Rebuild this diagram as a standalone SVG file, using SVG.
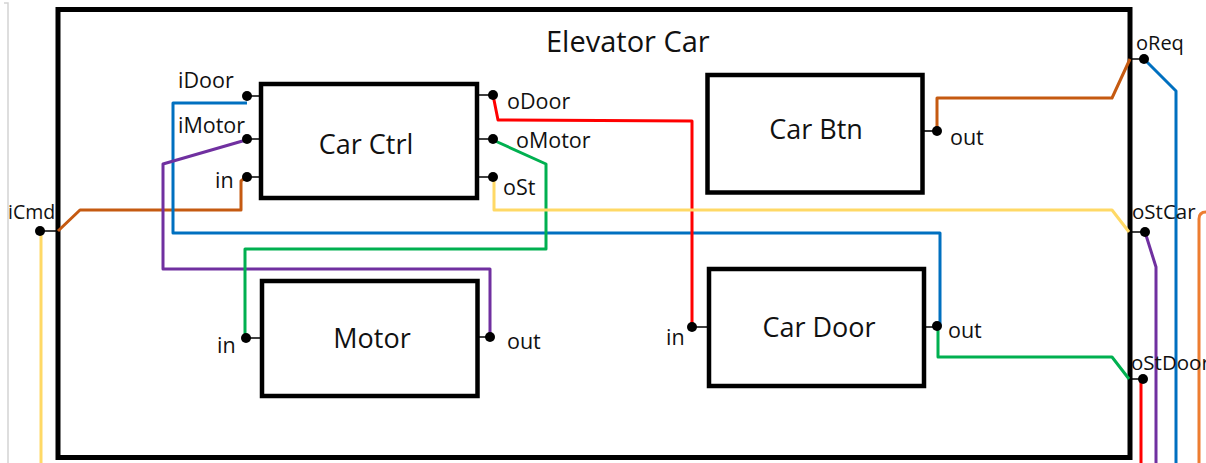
<svg xmlns="http://www.w3.org/2000/svg" width="1206" height="463" viewBox="0 0 1206 463">
<style>
  .box { fill: #fff; stroke: #000; stroke-width: 4.5; }
  .outer { fill: none; stroke: #000; stroke-width: 5; }
  .title { font-family: "Open Sans", "Liberation Sans", sans-serif; font-size: 29px; fill: #111; }
  .name { font-family: "Open Sans", "Liberation Sans", sans-serif; font-size: 27px; fill: #111; text-anchor: middle; }
  .lbl { font-family: "Open Sans", "Liberation Sans", sans-serif; font-size: 21.5px; fill: #111; }
  .dot { fill: #000; }
  .stub { stroke: #000; stroke-width: 1.6; fill: none; }
  .w { fill: none; stroke-width: 3; stroke-linejoin: round; }
  .brown { stroke: #C55A11; }
  .blue { stroke: #0070C0; }
  .purple { stroke: #7030A0; }
  .green { stroke: #00B050; }
  .red { stroke: #FF0000; }
  .yellow { stroke: #FFD966; }
  .orange { stroke: #ED7D31; }
</style>
<rect width="1206" height="463" fill="#fff"/>
<path d="M4,3 L8,3 L8,463" fill="none" stroke="#d4d4d4" stroke-width="1.5"/>

<g id="elevator-car">
  <rect class="outer" x="58" y="9.5" width="1072" height="448"/>
  <text class="title" x="546" y="52">Elevator Car</text>
</g>

<g id="connectors">
  <path class="w brown" d="M58,231 L80,210 L241,210 L241,181 L246,177"/>
  <path class="w brown" d="M937,131 L937,98 L1112,98 L1130,59"/>
  <path class="w blue" d="M1144,59 L1176,91 L1176,463"/>
  <path class="w blue" d="M247,103 L173,103 L173,233 L940,233 L940,326"/>
  <path class="w purple" d="M246,140 L163,164 L163,269 L490,269 L490,337"/>
  <path class="w purple" d="M1145,232 L1156,267 L1156,463"/>
  <path class="w green" d="M493,140 L546,164 L546,249 L245,249 L245,338"/>
  <path class="w green" d="M938,326 L938,357 L1112,357 L1129,379"/>
  <path class="w red" d="M493,95 L498,120 L692,121 L692,327"/>
  <path class="w red" d="M1141,380 L1141,463"/>
  <path class="w yellow" d="M494,177 L494,210 L1112,210 L1129,232"/>
  <path class="w yellow" d="M41,231 L41,463"/>
  <path class="w orange" d="M1206,212 Q1199,212 1199,219 L1199,463"/>
</g>

<g id="ports-outer">
  <path class="stub" d="M40,231 L57,231 M1131,59 L1144,59 M1131,232 L1145,232 M1131,379 L1143,379"/>
  <circle class="dot" cx="40" cy="231" r="5"/>
  <circle class="dot" cx="1144" cy="59" r="5"/>
  <circle class="dot" cx="1145" cy="232" r="5"/>
  <circle class="dot" cx="1143" cy="379" r="5"/>
  <text class="lbl" x="8" y="219" style="font-size:19.5px">iCmd</text>
  <text class="lbl" x="1136" y="50" style="font-size:20px">oReq</text>
  <text class="lbl" x="1132" y="219" style="font-size:20.5px">oStCar</text>
  <text class="lbl" x="1131" y="370" style="font-size:20.5px">oStDoor</text>
</g>

<g id="car-ctrl">
  <path class="stub" d="M247,96 L261,96 M247,139 L261,139 M247,177 L261,177 M477,95 L493,95 M477,139 L493,139 M477,177 L493,177"/>
  <rect class="box" x="261" y="84" width="216" height="114"/>
  <text class="name" x="366" y="154">Car Ctrl</text>
  <circle class="dot" cx="247" cy="96" r="5"/>
  <circle class="dot" cx="247" cy="139" r="5"/>
  <circle class="dot" cx="247" cy="177" r="5"/>
  <circle class="dot" cx="493" cy="95" r="5"/>
  <circle class="dot" cx="493" cy="139" r="5"/>
  <circle class="dot" cx="493" cy="177" r="5"/>
  <text class="lbl" x="178" y="88">iDoor</text>
  <text class="lbl" x="178" y="133">iMotor</text>
  <text class="lbl" x="215" y="188">in</text>
  <text class="lbl" x="507" y="109">oDoor</text>
  <text class="lbl" x="516" y="148">oMotor</text>
  <text class="lbl" x="503" y="195">oSt</text>
</g>

<g id="car-btn">
  <path class="stub" d="M922,131 L937,131"/>
  <rect class="box" x="707.5" y="75" width="215" height="117.5"/>
  <text class="name" x="816" y="139">Car Btn</text>
  <circle class="dot" cx="937" cy="131" r="5"/>
  <text class="lbl" x="950" y="145">out</text>
</g>

<g id="car-door">
  <path class="stub" d="M692,327 L709,327 M924,327 L937,327"/>
  <rect class="box" x="709" y="269" width="215" height="117"/>
  <text class="name" x="819" y="337">Car Door</text>
  <circle class="dot" cx="692" cy="327" r="5"/>
  <circle class="dot" cx="937" cy="326" r="5"/>
  <text class="lbl" x="666" y="345">in</text>
  <text class="lbl" x="948" y="338">out</text>
</g>

<g id="motor">
  <path class="stub" d="M246,338 L262,338 M477,337 L490,337"/>
  <rect class="box" x="262" y="281" width="215.5" height="115"/>
  <text class="name" x="372" y="348">Motor</text>
  <circle class="dot" cx="246" cy="338" r="5"/>
  <circle class="dot" cx="490" cy="337" r="5"/>
  <text class="lbl" x="217" y="353">in</text>
  <text class="lbl" x="507" y="349">out</text>
</g>
</svg>
